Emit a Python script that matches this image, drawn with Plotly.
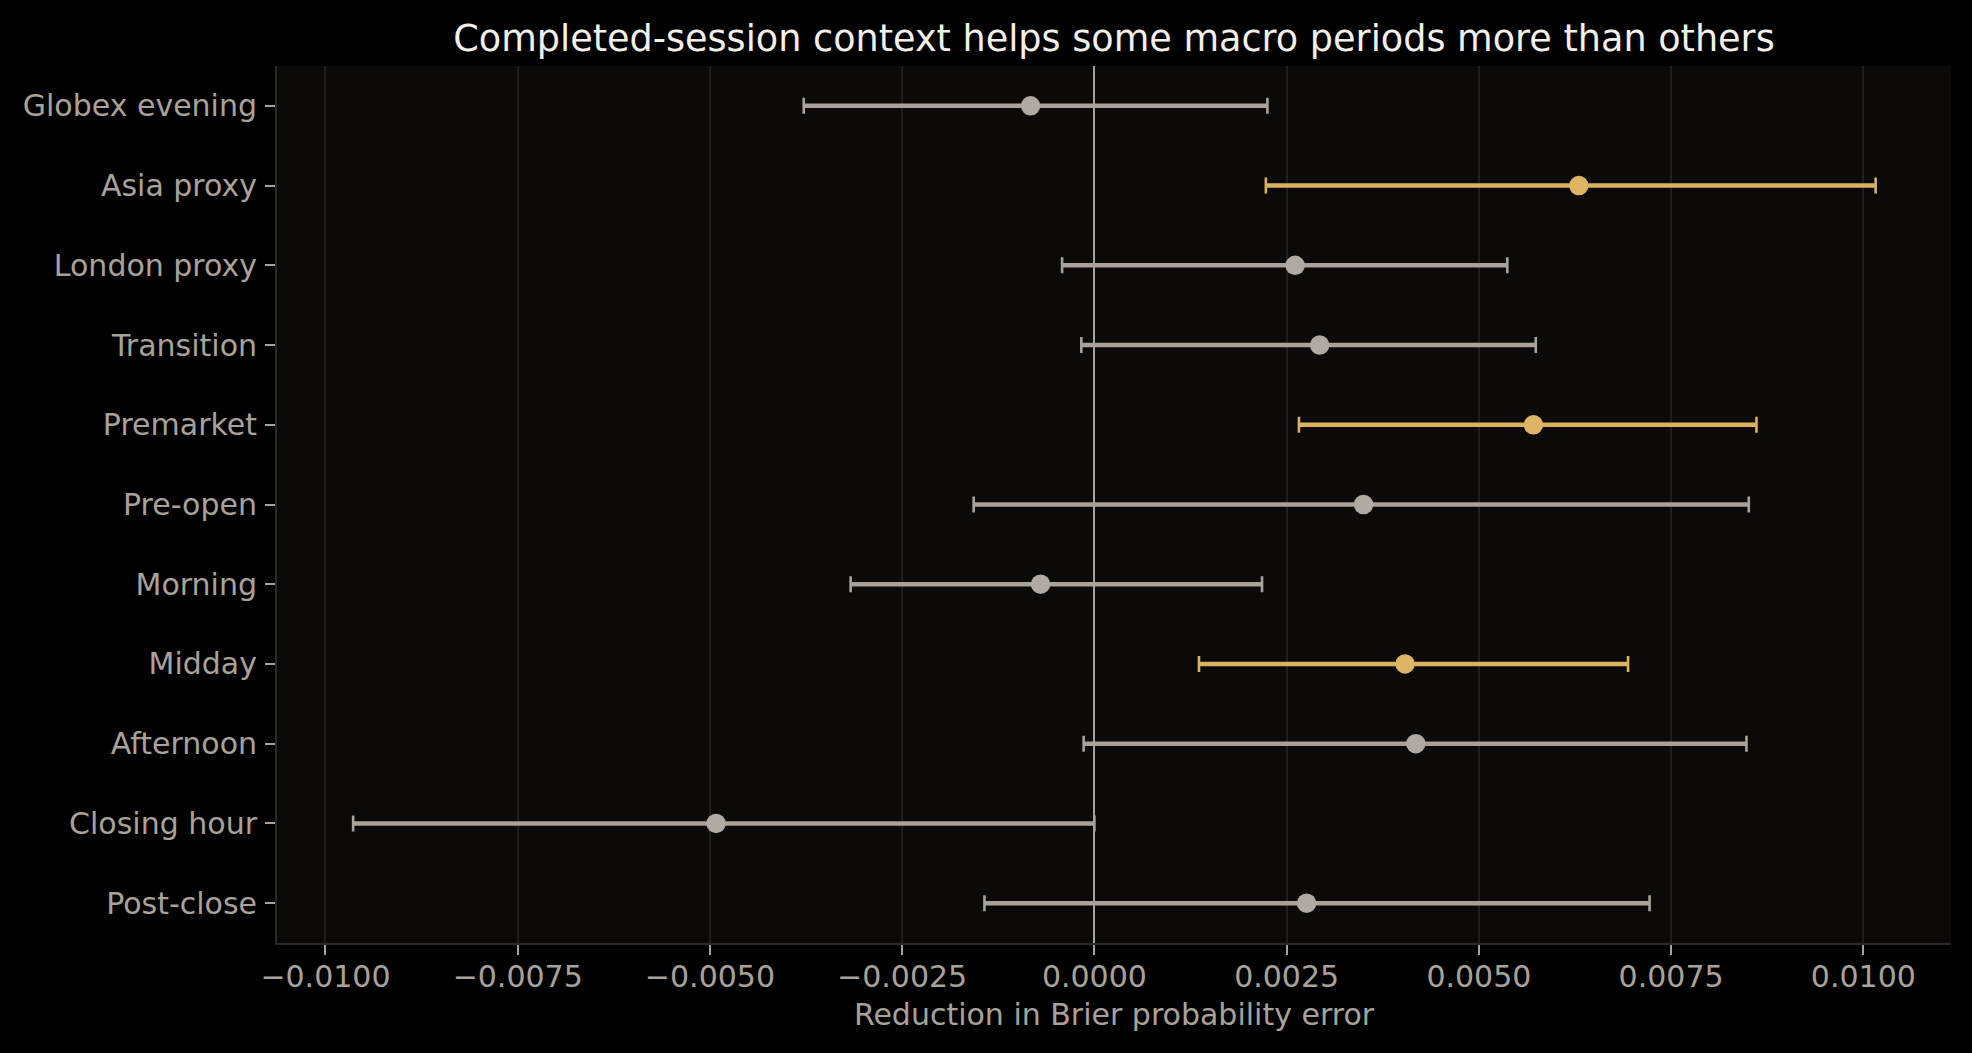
import plotly.graph_objects as go

periods = ["Globex evening", "Asia proxy", "London proxy", "Transition", "Premarket",
           "Pre-open", "Morning", "Midday", "Afternoon", "Closing hour", "Post-close"]
estimate = [-0.00083, 0.00630, 0.00261, 0.00293, 0.00571, 0.00350, -0.00070,
            0.00404, 0.00418, -0.00492, 0.00276]
ci_low = [-0.00378, 0.00223, -0.00042, -0.00017, 0.00266, -0.00157, -0.00317,
          0.00136, -0.00014, -0.00964, -0.00143]
ci_high = [0.00225, 0.01016, 0.00537, 0.00574, 0.00861, 0.00851, 0.00218,
           0.00694, 0.00848, 0.00000, 0.00722]
significant = [False, True, False, False, True, False, False, True, False, False, False]

tick_vals = [-0.01, -0.0075, -0.005, -0.0025, 0.0, 0.0025, 0.005, 0.0075, 0.01]
tick_text = ["\u22120.0100", "\u22120.0075", "\u22120.0050", "\u22120.0025", "0.0000",
             "0.0025", "0.0050", "0.0075", "0.0100"]

GOLD_LINE = "#dab262"
GOLD_MARK = "#ddb565"
GRAY_LINE = "#a8a29a"
GRAY_MARK = "#b0aaa2"
TEXT_GRAY = "#a8a29a"

fig = go.Figure()

for sig, lcol, mcol in [(False, GRAY_LINE, GRAY_MARK), (True, GOLD_LINE, GOLD_MARK)]:
    idx = [i for i, s in enumerate(significant) if s == sig]
    xs, ys = [], []
    for i in idx:
        xs += [ci_low[i], ci_high[i], None]
        ys += [periods[i], periods[i], None]
    fig.add_trace(go.Scatter(x=xs, y=ys, mode="lines",
                             line=dict(color=lcol, width=4.5),
                             hoverinfo="skip", showlegend=False))
    fig.add_trace(go.Scatter(
        x=[estimate[i] for i in idx], y=[periods[i] for i in idx],
        mode="markers",
        marker=dict(color=mcol, size=19.5, line=dict(width=0)),
        error_x=dict(type="data", symmetric=False,
                     array=[ci_high[i] - estimate[i] for i in idx],
                     arrayminus=[estimate[i] - ci_low[i] for i in idx],
                     thickness=2.6, width=8, color=lcol),
        showlegend=False))

fig.update_layout(
    width=1972, height=1053,
    margin=dict(l=277, r=21, t=66, b=110),
    paper_bgcolor="#000000", plot_bgcolor="#0b0a09",
    font=dict(family="DejaVu Sans", color=TEXT_GRAY, size=30),
    title=dict(text="Completed-session context helps some macro periods more than others",
               x=0.5, xref="paper", xanchor="center",
               y=1 - 37.7 / 1053, yref="container", yanchor="middle",
               font=dict(size=36.6, color="#f3f0ea", family="DejaVu Sans")),
    showlegend=False,
)

fig.update_xaxes(
    range=[-0.01063, 0.01114],
    tickmode="array", tickvals=tick_vals, ticktext=tick_text,
    ticks="outside", ticklen=10, tickwidth=2, tickcolor=TEXT_GRAY,
    tickfont=dict(size=30, color=TEXT_GRAY),
    showgrid=True, gridcolor="#201e1b", gridwidth=1.5,
    zeroline=True, zerolinecolor=GRAY_LINE, zerolinewidth=2.2,
    showline=True, linecolor="#2c2924", linewidth=2,
    title=dict(text="Reduction in Brier probability error",
               font=dict(size=30, color=TEXT_GRAY), standoff=11),
    ticklabelstandoff=-4,
)
fig.update_yaxes(
    type="category", categoryorder="array", categoryarray=periods,
    range=[10.5, -0.5],
    ticks="outside", ticklen=10, tickwidth=2, tickcolor=TEXT_GRAY,
    tickfont=dict(size=30, color=TEXT_GRAY),
    showgrid=False, zeroline=False,
    showline=True, linecolor="#2c2924", linewidth=2,
    ticklabelstandoff=2,
)

fig.write_html("out.html")
